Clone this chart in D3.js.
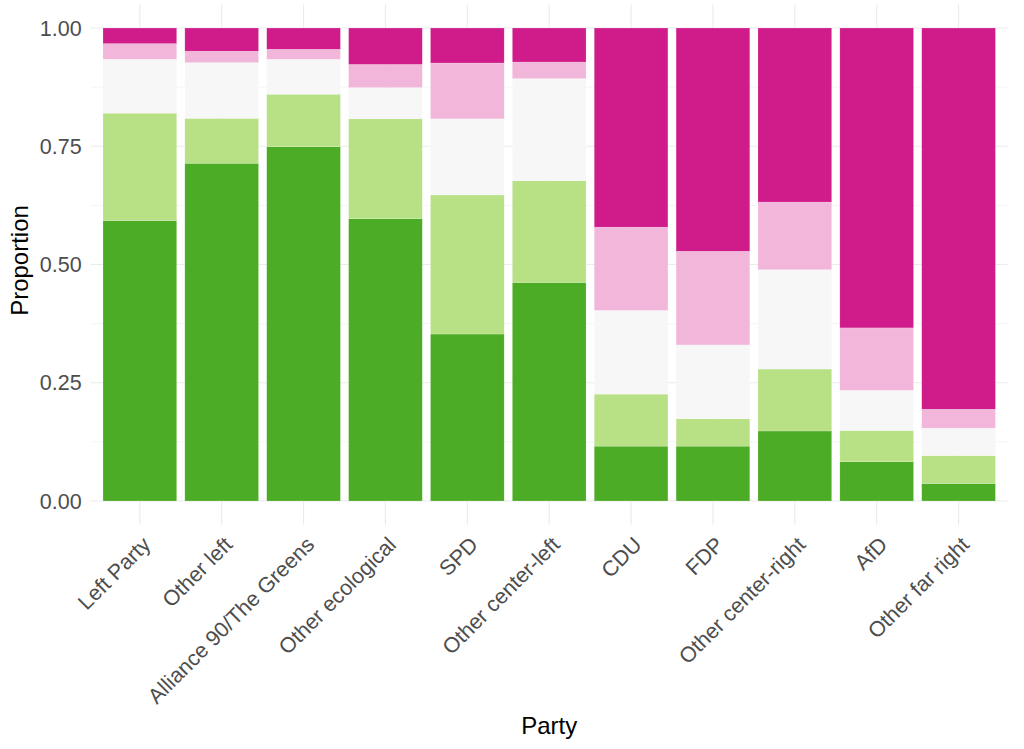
<!DOCTYPE html>
<html>
<head>
<meta charset="utf-8">
<script src="https://cdn.jsdelivr.net/npm/d3@7"></script>
<style>
  html, body { margin: 0; padding: 0; background: #ffffff; }
  svg { display: block; }
  text { font-family: "Liberation Sans", Arial, sans-serif; }
</style>
</head>
<body>
<svg id="chart" width="1024" height="749"></svg>
<script>
// ---- Data ----
const parties = ["Left Party", "Other left", "Alliance 90/The Greens", "Other ecological", "SPD",
  "Other center-left", "CDU", "FDP", "Other center-right", "AfD", "Other far right"];
const levels = ["Level 1", "Level 2", "Level 3", "Level 4", "Level 5"]; // bottom to top
const level1 = [0.593, 0.714, 0.749, 0.597, 0.353, 0.462, 0.116, 0.116, 0.148, 0.083, 0.037];
const level2 = [0.227, 0.095, 0.111, 0.211, 0.294, 0.215, 0.110, 0.058, 0.131, 0.066, 0.059];
const level3 = [0.114, 0.118, 0.074, 0.066, 0.161, 0.216, 0.177, 0.156, 0.210, 0.085, 0.058];
const level4 = [0.033, 0.024, 0.021, 0.049, 0.118, 0.035, 0.176, 0.198, 0.143, 0.132, 0.040];
const level5 = [0.033, 0.049, 0.045, 0.077, 0.074, 0.072, 0.421, 0.472, 0.368, 0.634, 0.806];
const colors = ["#4dac26", "#b8e186", "#f7f7f7", "#f1b6da", "#d01c8b"];
const yTicks = [0, 0.25, 0.5, 0.75, 1];
const yMinor = [0.125, 0.375, 0.625, 0.875];

const series = [level1, level2, level3, level4, level5];
const rows = parties.map((p, i) => {
  const r = { party: p };
  levels.forEach((l, j) => r[l] = series[j][i]);
  return r;
});

// ---- Layout ----
const svg = d3.select("#chart");
const panel = { left: 90.7, right: 1007.7, top: 4.35, bottom: 524.65 };
const y = d3.scaleLinear().domain([0, 1]).range([501, 28]);
const x = d3.scaleBand().domain(parties).range([panel.left, panel.right])
  .paddingInner(0.1).paddingOuter(0.15);

// Grid
const g = svg.append("g");
g.selectAll(".minor").data(yMinor).join("line")
  .attr("x1", panel.left).attr("x2", panel.right)
  .attr("y1", d => y(d)).attr("y2", d => y(d))
  .attr("stroke", "#f2f2f2").attr("stroke-width", 0.8);
g.selectAll(".major").data(yTicks).join("line")
  .attr("x1", panel.left).attr("x2", panel.right)
  .attr("y1", d => y(d)).attr("y2", d => y(d))
  .attr("stroke", "#ebebeb").attr("stroke-width", 1.1);
g.selectAll(".vmajor").data(parties).join("line")
  .attr("x1", d => x(d) + x.bandwidth() / 2).attr("x2", d => x(d) + x.bandwidth() / 2)
  .attr("y1", panel.top).attr("y2", panel.bottom)
  .attr("stroke", "#ebebeb").attr("stroke-width", 1.1);

// Bars
const stack = d3.stack().keys(levels)(rows);
svg.append("g").selectAll("g").data(stack).join("g")
  .attr("fill", (d, i) => colors[i])
  .selectAll("rect").data(d => d).join("rect")
  .attr("x", d => x(d.data.party))
  .attr("width", x.bandwidth())
  .attr("y", d => y(d[1]))
  .attr("height", d => y(d[0]) - y(d[1]))
  .attr("stroke", "#ffffff").attr("stroke-opacity", 0.35).attr("stroke-width", 0.5);

// Y axis labels
svg.append("g").selectAll("text").data(yTicks).join("text")
  .attr("x", 81.7).attr("y", d => y(d))
  .attr("dy", "0.36em")
  .attr("text-anchor", "end")
  .attr("font-size", 21.5).attr("fill", "#4d4d4d")
  .text(d => d3.format(".2f")(d));

// X axis labels
svg.append("g").selectAll("text").data(parties).join("text")
  .attr("transform", d => `translate(${x(d) + x.bandwidth() / 2 + 12},${546}) rotate(-45)`)
  .attr("text-anchor", "end")
  .attr("font-size", 21.5).attr("fill", "#4d4d4d")
  .text(d => d);

// Axis titles
svg.append("text")
  .attr("x", (panel.left + panel.right) / 2).attr("y", 733.5)
  .attr("text-anchor", "middle").attr("font-size", 24).attr("fill", "#000")
  .text("Party");
svg.append("text")
  .attr("transform", `translate(28,${(panel.top + panel.bottom) / 2 - 4}) rotate(-90)`)
  .attr("text-anchor", "middle").attr("font-size", 24).attr("fill", "#000")
  .text("Proportion");
</script>
</body>
</html>
